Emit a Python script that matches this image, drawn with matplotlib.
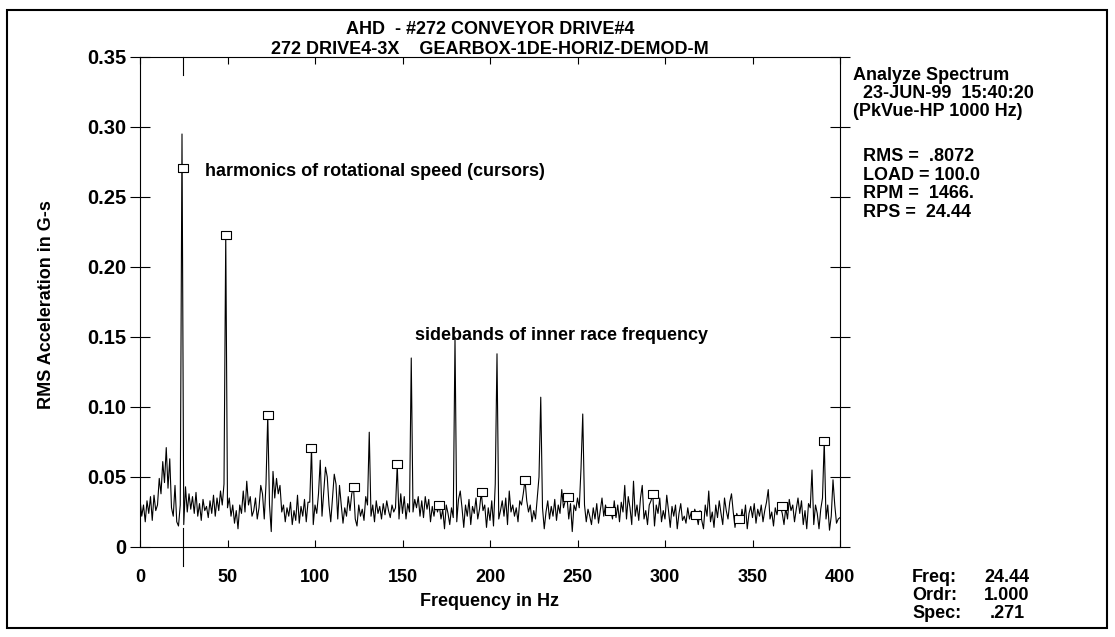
"""
PeakVue spectrum of the #272 conveyor drive gearbox (AHD), 0-400 Hz.
"""

import numpy as np
import matplotlib

matplotlib.use("Agg")
import matplotlib.pyplot as plt

plt.rcParams["font.family"] = ["Liberation Sans", "DejaVu Sans"]
plt.rcParams["font.weight"] = "bold"

# spectrum amplitudes, one value per Hz from 0 to 400 Hz (G-s RMS)
spec_0_99 = [
    0.034, 0.022, 0.030, 0.018, 0.033, 0.024, 0.036, 0.019, 0.037, 0.026,
    0.030, 0.049, 0.038, 0.061, 0.046, 0.071, 0.042, 0.063, 0.028, 0.022,
    0.044, 0.018, 0.015, 0.030, 0.295, 0.016, 0.043, 0.025, 0.038, 0.027,
    0.036, 0.024, 0.039, 0.022, 0.031, 0.019, 0.034, 0.026, 0.029, 0.021,
    0.033, 0.024, 0.037, 0.022, 0.035, 0.026, 0.040, 0.030, 0.045, 0.223,
    0.028, 0.035, 0.022, 0.030, 0.017, 0.026, 0.013, 0.030, 0.024, 0.040,
    0.025, 0.047, 0.030, 0.036, 0.022, 0.026, 0.035, 0.020, 0.028, 0.044,
    0.038, 0.020, 0.045, 0.094, 0.030, 0.011, 0.054, 0.035, 0.049, 0.038,
    0.044, 0.025, 0.030, 0.018, 0.028, 0.022, 0.032, 0.016, 0.026, 0.019,
    0.037, 0.017, 0.029, 0.022, 0.034, 0.018, 0.032, 0.032, 0.071, 0.016,
]
spec_100_199 = [
    0.030, 0.024, 0.038, 0.062, 0.022, 0.040, 0.057, 0.050, 0.030, 0.018,
    0.035, 0.052, 0.045, 0.020, 0.044, 0.030, 0.017, 0.028, 0.022, 0.036,
    0.026, 0.038, 0.043, 0.020, 0.015, 0.030, 0.022, 0.027, 0.019, 0.036,
    0.030, 0.082, 0.022, 0.030, 0.018, 0.033, 0.024, 0.029, 0.020, 0.031,
    0.023, 0.033, 0.026, 0.021, 0.030, 0.025, 0.028, 0.059, 0.020, 0.038,
    0.024, 0.036, 0.020, 0.031, 0.025, 0.135, 0.025, 0.034, 0.028, 0.036,
    0.022, 0.033, 0.021, 0.036, 0.027, 0.034, 0.018, 0.029, 0.022, 0.031,
    0.025, 0.030, 0.020, 0.027, 0.013, 0.030, 0.024, 0.016, 0.028, 0.021,
    0.150, 0.018, 0.034, 0.040, 0.028, 0.014, 0.030, 0.022, 0.034, 0.016,
    0.029, 0.024, 0.035, 0.020, 0.027, 0.039, 0.026, 0.030, 0.014, 0.028,
]
spec_200_299 = [
    0.019, 0.033, 0.015, 0.045, 0.138, 0.020, 0.026, 0.033, 0.022, 0.035,
    0.016, 0.040, 0.025, 0.030, 0.022, 0.028, 0.018, 0.033, 0.030, 0.038,
    0.048, 0.033, 0.025, 0.030, 0.018, 0.026, 0.020, 0.035, 0.050, 0.107,
    0.028, 0.013, 0.025, 0.033, 0.020, 0.029, 0.022, 0.034, 0.019, 0.030,
    0.024, 0.041, 0.028, 0.033, 0.036, 0.020, 0.031, 0.011, 0.030, 0.026,
    0.035, 0.028, 0.056, 0.095, 0.030, 0.018, 0.027, 0.022, 0.016, 0.028,
    0.020, 0.031, 0.017, 0.026, 0.035, 0.022, 0.030, 0.024, 0.028, 0.026,
    0.020, 0.033, 0.021, 0.030, 0.018, 0.032, 0.025, 0.044, 0.020, 0.036,
    0.028, 0.016, 0.047, 0.022, 0.030, 0.019, 0.035, 0.044, 0.020, 0.026,
    0.016, 0.030, 0.033, 0.038, 0.015, 0.030, 0.024, 0.035, 0.018, 0.026,
]
spec_300_400 = [
    0.020, 0.037, 0.026, 0.014, 0.029, 0.022, 0.030, 0.013, 0.024, 0.031,
    0.019, 0.022, 0.017, 0.028, 0.020, 0.025, 0.021, 0.027, 0.023, 0.016,
    0.026, 0.019, 0.013, 0.030, 0.022, 0.040, 0.018, 0.025, 0.014, 0.030,
    0.021, 0.033, 0.024, 0.016, 0.035, 0.026, 0.020, 0.032, 0.038, 0.025,
    0.014, 0.024, 0.020, 0.017, 0.027, 0.019, 0.030, 0.013, 0.024, 0.029,
    0.021, 0.031, 0.017, 0.027, 0.022, 0.030, 0.018, 0.026, 0.032, 0.041,
    0.020, 0.025, 0.015, 0.028, 0.023, 0.031, 0.029, 0.024, 0.016, 0.028,
    0.020, 0.034, 0.026, 0.030, 0.018, 0.027, 0.035, 0.024, 0.033, 0.016,
    0.026, 0.013, 0.031, 0.028, 0.055, 0.016, 0.030, 0.024, 0.013, 0.027,
    0.035, 0.076, 0.020, 0.030, 0.012, 0.022, 0.048, 0.030, 0.017, 0.020,
    0.021,
]

# cursor marks at the running-speed harmonics (value at each cursor)
rps = 24.44
harmonic_order = list(range(1, 17))
harmonic_amp = [0.271, 0.223, 0.094, 0.071, 0.043, 0.059, 0.030, 0.039,
                0.048, 0.036, 0.026, 0.038, 0.023, 0.020, 0.029, 0.076]

yticks = [0, 0.05, 0.10, 0.15, 0.20, 0.25, 0.30, 0.35]
ytick_labels = ["0", "0.05", "0.10", "0.15", "0.20", "0.25", "0.30", "0.35"]
xticks = [0, 50, 100, 150, 200, 250, 300, 350, 400]

header_lines = ["Analyze Spectrum", "  23-JUN-99  15:40:20", "(PkVue-HP 1000 Hz)"]
stats_lines = ["RMS =  .8072", "LOAD = 100.0", "RPM =  1466.", "RPS =  24.44"]
cursor_names = ["Freq:", "Ordr:", "Spec:"]
cursor_values = ["24.44", "1.000", ".271"]

spectrum = np.array(spec_0_99 + spec_100_199 + spec_200_299 + spec_300_400)
freq = np.arange(len(spectrum), dtype=float)

W, H = 1115, 637
fig = plt.figure(figsize=(W / 100, H / 100), dpi=100)
ax = fig.add_axes([140 / W, 1 - 547 / H, 700 / W, 490 / H])

ax.plot(freq, spectrum, color="black", linewidth=0.8)

# open rectangles on the harmonics
box = [(-1.4, -1), (1.4, -1), (1.4, 1), (-1.4, 1), (-1.4, -1)]
ax.plot([rps * k for k in harmonic_order], harmonic_amp, linestyle="none",
        marker=box, markersize=7.5, markerfacecolor="white",
        markeredgecolor="black", markeredgewidth=0.8, zorder=3)

# cursor at 1x
ax.plot([rps, rps], [0.35, 0.337], color="black", linewidth=0.8, clip_on=False)
ax.plot([rps, rps], [0.0136, -0.0136], color="black", linewidth=0.8, clip_on=False)

ax.set_xlim(0, 400)
ax.set_ylim(0, 0.35)
ax.set_xticks(xticks)
ax.set_yticks(yticks)
ax.set_yticklabels(ytick_labels)
for s in ax.spines.values():
    s.set_linewidth(0.8)

ax.tick_params(axis="x", direction="in", length=5, width=0.8, top=True,
               labelsize=13, pad=16)
ax.tick_params(axis="y", direction="inout", length=14, width=0.8, right=True,
               labelsize=14.5, pad=3)

ax.text(37, 0.268, "harmonics of rotational speed (cursors)", fontsize=13,
        fontweight="bold", va="center")
ax.text(157, 0.151, "sidebands of inner race frequency", fontsize=13,
        fontweight="bold", va="center")

# titles and labels in figure pixels
def ftext(x, y, s, **kw):
    fig.text(x / W, 1 - y / H, s, fontsize=13, fontweight="bold", **kw)

ftext(490, 29, "AHD  - #272 CONVEYOR DRIVE#4", ha="center", va="center")
ftext(490, 50, "272 DRIVE4-3X    GEARBOX-1DE-HORIZ-DEMOD-M", ha="center", va="center")
ftext(490, 601, "Frequency in Hz", ha="center", va="center")
ftext(47, 305, "RMS Acceleration in G-s", ha="center", va="center", rotation=90)

for i, line in enumerate(header_lines):
    ftext(853, 75 + 18.5 * i, line, va="center")
for i, line in enumerate(stats_lines):
    ftext(863, 157 + 18.5 * i, line, va="center")
for i, (name, val) in enumerate(zip(cursor_names, cursor_values)):
    ftext(912, 577 + 18.5 * i, name, va="center")
    ftext(1007, 577 + 18.5 * i, val, va="center", ha="center")

# outer frame
fig.patches.append(plt.Rectangle((7 / W, 1 - 628 / H), 1100 / W, 618 / H,
                                 transform=fig.transFigure, fill=False,
                                 edgecolor="black", linewidth=1.5))

fig.savefig("out.png", dpi=100, facecolor="white")
